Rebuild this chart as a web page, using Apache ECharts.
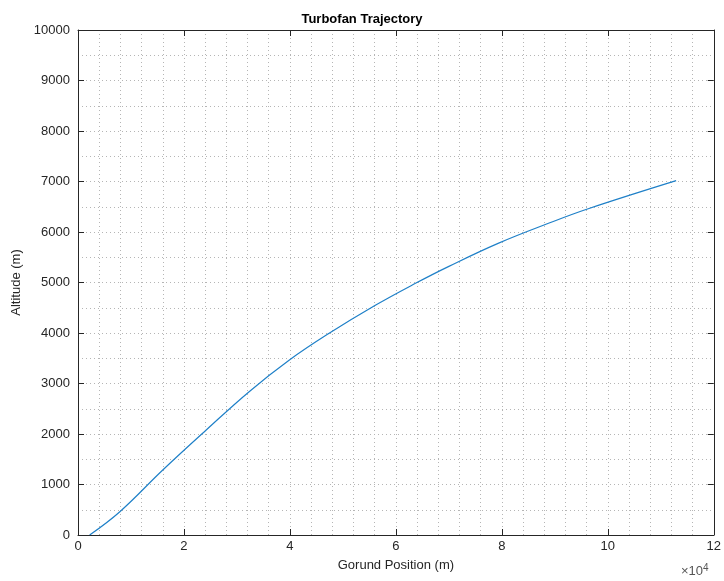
<!DOCTYPE html>
<html>
<head>
<meta charset="utf-8">
<script src="https://cdn.jsdelivr.net/npm/echarts@6/dist/echarts.min.js"></script>
<style>html,body{margin:0;padding:0;background:#fff;}#c{width:724px;height:581px;}</style>
</head>
<body>
<div id="c"></div>
<script>
var groundPos = [2200, 7900, 16000, 24200, 32300, 39900, 47400, 56200, 63700, 70000, 79400, 88800, 96300, 112900];
var altitude  = [0,    461,  1287,  2079,  2838,  3465,  3994,  4554,  4984,  5320,  5780,  6172,  6460,  7016];
var xTicks = [0, 2, 4, 6, 8, 10, 12];
var yTicks = [0, 1000, 2000, 3000, 4000, 5000, 6000, 7000, 8000, 9000, 10000];
var titleText = 'Turbofan Trajectory';
var xName = 'Gorund Position (m)';
var yName = 'Altitude (m)';

var font = 'Liberation Sans, Arial, Helvetica, sans-serif';
var axisCol = '#262626';
var gridLine = {show: true, lineStyle: {color: '#b5b5b5', type: [1, 3], width: 1}};
var tick = {show: true, inside: true, length: 6, lineStyle: {color: axisCol}};
var tickNeg = {show: true, inside: false, length: -6, lineStyle: {color: axisCol, width: 1}};
var xBase = {type: 'value', min: 0, max: 120000, interval: 20000};
var yBase = {type: 'value', min: 0, max: 10000, interval: 1000};
function plainAxis(base, pos) {
  return Object.assign({}, base, {
    position: pos,
    axisLine: {show: true, onZero: false, lineStyle: {color: axisCol, width: 1}},
    axisTick: tick, axisLabel: {show: false}, splitLine: {show: false}
  });
}
var chart = echarts.init(document.getElementById('c'));
chart.setOption({
  animation: false,
  title: {text: titleText, left: 'center', top: 8, textStyle: {fontFamily: font, fontSize: 13, fontWeight: 'bold', color: '#000'}},
  grid: {left: 78, right: 7, top: 30, bottom: 46},
  xAxis: [Object.assign({}, xBase, {
    position: 'bottom',
    name: xName, nameLocation: 'middle', nameGap: 24,
    nameTextStyle: {fontFamily: font, fontSize: 13, color: axisCol},
    axisLine: {show: true, onZero: false, lineStyle: {color: axisCol, width: 1}},
    axisTick: tickNeg,
    axisLabel: {fontFamily: font, fontSize: 13, color: axisCol, margin: 5,
      formatter: function (v) { return String(v / 10000); }},
    splitLine: gridLine,
    minorTick: {show: false, splitNumber: 5},
    minorSplitLine: gridLine
  }), plainAxis(xBase, 'top')],
  yAxis: [Object.assign({}, yBase, {
    position: 'left',
    name: yName, nameLocation: 'middle', nameGap: 53,
    nameTextStyle: {fontFamily: font, fontSize: 13, color: axisCol},
    axisLine: {show: true, onZero: false, lineStyle: {color: axisCol, width: 1}},
    axisTick: tickNeg,
    axisLabel: {fontFamily: font, fontSize: 13, color: axisCol, margin: 8,
      formatter: function (v) { return String(v); }},
    splitLine: gridLine,
    minorTick: {show: false, splitNumber: 2},
    minorSplitLine: gridLine
  }), plainAxis(yBase, 'right')],
  graphic: [{
    type: 'text', left: 681, top: 563,
    style: {rich: {a: {fontFamily: font, fontSize: 13, fill: '#555'}, b: {fontFamily: font, fontSize: 10, fill: '#555', verticalAlign: 'top', padding: [0,0,7,0]}},
      text: '{a|\u00d710}{b|4}'}
  }],
  series: [{
    type: 'line', xAxisIndex: 0, yAxisIndex: 0,
    data: groundPos.map(function (x, i) { return [x, altitude[i]]; }),
    smooth: 0.4, showSymbol: false,
    lineStyle: {color: '#1f80c8', width: 1.2}
  }]
});
</script>
</body>
</html>
